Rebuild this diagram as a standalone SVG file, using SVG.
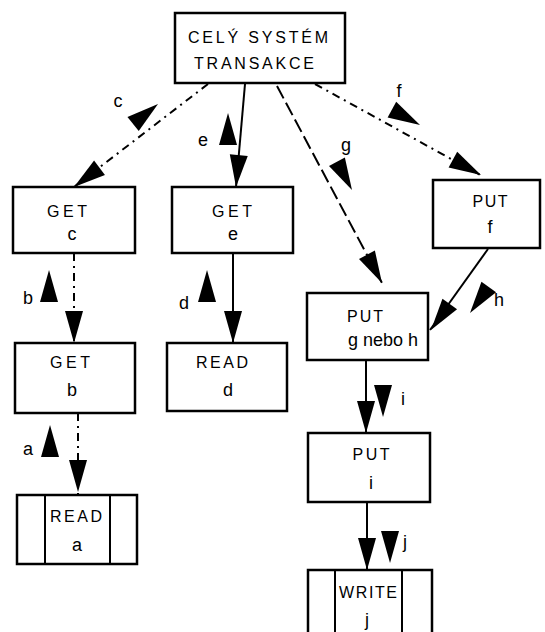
<svg xmlns="http://www.w3.org/2000/svg" width="545" height="632" viewBox="0 0 545 632">
<style>
.box{fill:#fff;stroke:#000;stroke-width:2.5}
.in{stroke:#000;stroke-width:2}
.t{font-family:"Liberation Sans",Arial,sans-serif;font-size:16px;fill:#000;text-anchor:middle}
.lb{font-family:"Liberation Sans",Arial,sans-serif;font-size:18px;fill:#000;text-anchor:middle}
.s{fill:none;stroke:#000;stroke-width:2}
.dd{fill:none;stroke:#000;stroke-width:2;stroke-dasharray:8 5 2 5}
.ld{fill:none;stroke:#000;stroke-width:2;stroke-dasharray:14 5}
</style>
<defs>
<polygon id="ah" points="0,0 -9,-32 9,-32" fill="#000"/>
</defs>
<rect width="545" height="632" fill="#fff"/>
<g id="connectors">
<path class="dd" d="M208,84 L74,187"/>
<use href="#ah" transform="translate(74,187) rotate(52.9)"/>
<use href="#ah" transform="translate(158,104) rotate(-128.9)"/>
<text class="lb" x="118" y="107">c</text>

<path class="s" d="M245,84 L236,187"/>
<use href="#ah" transform="translate(236,187) rotate(5)"/>
<use href="#ah" transform="translate(228,113) rotate(180)"/>
<text class="lb" x="203" y="146">e</text>

<path class="dd" d="M315,84 L482,176"/>
<use href="#ah" transform="translate(481,175) rotate(-61.4)"/>
<use href="#ah" transform="translate(420,125) rotate(-61.4)"/>
<text class="lb" x="399" y="97">f</text>

<path class="ld" d="M277,86 L382,283"/>
<use href="#ah" transform="translate(382,283) rotate(-28.1)"/>
<use href="#ah" transform="translate(352,190) rotate(-28.1)"/>
<text class="lb" x="346" y="151">g</text>

<path class="s" d="M488,249 L430,330"/>
<use href="#ah" transform="translate(431,330) rotate(35.9)"/>
<use href="#ah" transform="translate(470,313) rotate(35.9)"/>
<text class="lb" x="499" y="306">h</text>

<path class="s" d="M366,360 L366,433"/>
<use href="#ah" transform="translate(366,433)"/>
<use href="#ah" transform="translate(383,417)"/>
<text class="lb" x="403" y="405">i</text>

<path class="s" d="M367,502 L367,570"/>
<use href="#ah" transform="translate(367,570)"/>
<use href="#ah" transform="translate(390,563)"/>
<text class="lb" x="405" y="548">j</text>

<path class="dd" d="M74,253 L74,343"/>
<use href="#ah" transform="translate(74,343)"/>
<use href="#ah" transform="translate(49,270) rotate(180)"/>
<text class="lb" x="28" y="304">b</text>

<path class="s" d="M233,253 L233,343"/>
<use href="#ah" transform="translate(233,343)"/>
<use href="#ah" transform="translate(207,270) rotate(180)"/>
<text class="lb" x="184" y="309">d</text>

<path class="dd" d="M78,413 L78,495"/>
<use href="#ah" transform="translate(78,492)"/>
<use href="#ah" transform="translate(50,425) rotate(180)"/>
<text class="lb" x="28" y="455">a</text>
</g>

<g id="n-system">
<rect class="box" x="175" y="13" width="170" height="70"/>
<text class="t" x="258" y="43" textLength="140" lengthAdjust="spacing">CELÝ SYSTÉM</text>
<text class="t" x="254" y="69" textLength="120" lengthAdjust="spacing">TRANSAKCE</text>
</g>
<g id="n-get-c">
<rect class="box" x="13" y="187" width="122" height="66"/>
<text class="t" x="67" y="217" textLength="40" lengthAdjust="spacing">GET</text>
<text class="lb" x="72" y="240">c</text>
</g>
<g id="n-get-e">
<rect class="box" x="172" y="187" width="121" height="66"/>
<text class="t" x="232" y="217" textLength="40" lengthAdjust="spacing">GET</text>
<text class="lb" x="233" y="240">e</text>
</g>
<g id="n-put-f">
<rect class="box" x="433" y="180" width="107" height="68"/>
<text class="t" x="490" y="207" textLength="35" lengthAdjust="spacing">PUT</text>
<text class="lb" x="490" y="233">f</text>
</g>
<g id="n-get-b">
<rect class="box" x="15" y="343" width="120" height="70"/>
<text class="t" x="70" y="368" textLength="40" lengthAdjust="spacing">GET</text>
<text class="lb" x="72" y="396">b</text>
</g>
<g id="n-read-d">
<rect class="box" x="167" y="343" width="120" height="68"/>
<text class="t" x="222" y="368" textLength="52" lengthAdjust="spacing">READ</text>
<text class="lb" x="228" y="396">d</text>
</g>
<g id="n-put-gh">
<rect class="box" x="307" y="293" width="121" height="67"/>
<text class="t" x="365" y="322" textLength="36" lengthAdjust="spacing">PUT</text>
<text class="lb" x="383" y="346" textLength="70" lengthAdjust="spacing">g nebo h</text>
</g>
<g id="n-read-a">
<rect class="box" x="17" y="495" width="120" height="69"/>
<line class="in" x1="45" y1="495" x2="45" y2="564"/>
<line class="in" x1="110" y1="495" x2="110" y2="564"/>
<text class="t" x="76" y="522" textLength="52" lengthAdjust="spacing">READ</text>
<text class="lb" x="77" y="551">a</text>
</g>
<g id="n-put-i">
<rect class="box" x="308" y="433" width="122" height="69"/>
<text class="t" x="371" y="460" textLength="37" lengthAdjust="spacing">PUT</text>
<text class="lb" x="371" y="489">i</text>
</g>
<g id="n-write-j">
<rect class="box" x="308" y="570" width="124" height="72"/>
<line class="in" x1="335" y1="570" x2="335" y2="632"/>
<line class="in" x1="402" y1="570" x2="402" y2="632"/>
<text class="t" x="368" y="598" textLength="58" lengthAdjust="spacing">WRITE</text>
<text class="lb" x="367" y="626">j</text>
</g>
</svg>
